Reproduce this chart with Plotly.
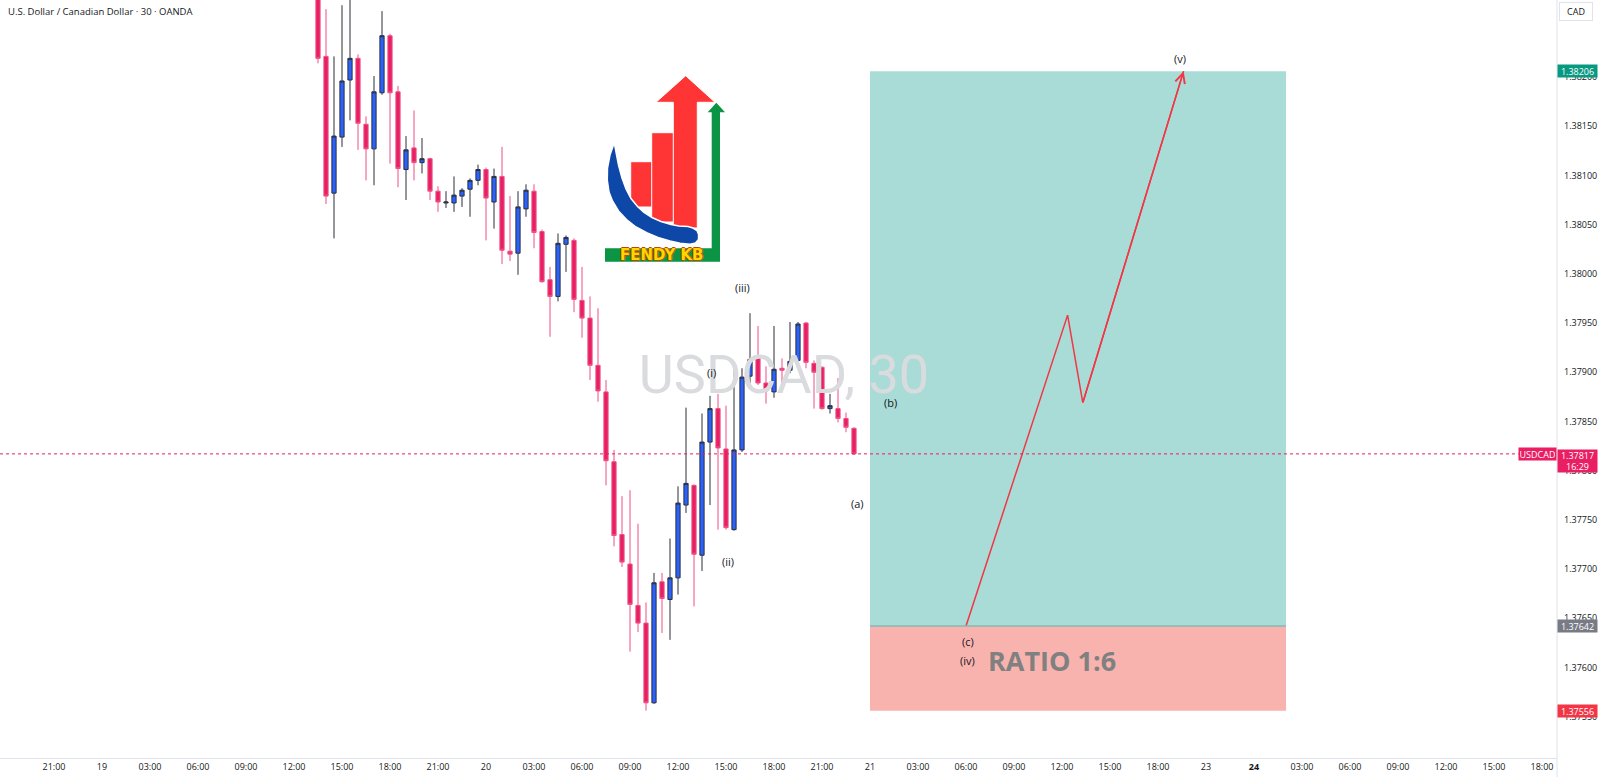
import plotly.graph_objects as go

# USDCAD 30 min candles, x = bar number counted from 18 Nov 18:00
first_bar = 39
opens = [1.38300, 1.38221, 1.38082, 1.38139, 1.38197, 1.38219, 1.38152, 1.38127, 1.38184, 1.38242,
         1.38185, 1.38106, 1.38128, 1.38113, 1.38117, 1.38084, 1.38072, 1.38072, 1.38079, 1.38086,
         1.38095, 1.38106, 1.38073, 1.38099, 1.38023, 1.38021, 1.38066, 1.38084, 1.38043, 1.37994,
         1.37977, 1.38030, 1.38034, 1.37973, 1.37955, 1.37907, 1.37880, 1.37809, 1.37735, 1.37705,
         1.37663, 1.37645, 1.37564, 1.37687, 1.37669, 1.37691, 1.37765, 1.37785, 1.37714, 1.37829,
         1.37863, 1.37822, 1.37740, 1.37821, 1.37896, 1.37916, 1.37889, 1.37880, 1.37904, 1.37902,
         1.37912, 1.37950, 1.37909, 1.37905, 1.37863, 1.37863, 1.37853, 1.37843]
highs = [1.38310, 1.38269, 1.38221, 1.38273, 1.38290, 1.38223, 1.38160, 1.38201, 1.38267, 1.38244,
         1.38191, 1.38140, 1.38166, 1.38138, 1.38118, 1.38089, 1.38084, 1.38099, 1.38087, 1.38097,
         1.38111, 1.38108, 1.38107, 1.38129, 1.38079, 1.38084, 1.38091, 1.38091, 1.38045, 1.38007,
         1.38041, 1.38039, 1.38036, 1.38007, 1.37977, 1.37965, 1.37892, 1.37821, 1.37774, 1.37780,
         1.37746, 1.37666, 1.37696, 1.37696, 1.37731, 1.37784, 1.37864, 1.37786, 1.37858, 1.37876,
         1.37878, 1.37866, 1.37904, 1.37904, 1.37960, 1.37947, 1.37906, 1.37947, 1.37914, 1.37951,
         1.37951, 1.37951, 1.37912, 1.37906, 1.37878, 1.37894, 1.37859, 1.37844]
lows = [1.38214, 1.38071, 1.38036, 1.38129, 1.38156, 1.38126, 1.38095, 1.38090, 1.38182, 1.38112,
        1.38088, 1.38075, 1.38095, 1.38102, 1.38075, 1.38063, 1.38067, 1.38063, 1.38068, 1.38058,
        1.38090, 1.38034, 1.38046, 1.38010, 1.38013, 1.37999, 1.38058, 1.38026, 1.37991, 1.37936,
        1.37972, 1.38002, 1.37961, 1.37935, 1.37892, 1.37870, 1.37785, 1.37723, 1.37702, 1.37616,
        1.37636, 1.37556, 1.37563, 1.37635, 1.37628, 1.37674, 1.37757, 1.37662, 1.37698, 1.37765,
        1.37740, 1.37740, 1.37739, 1.37819, 1.37889, 1.37887, 1.37868, 1.37874, 1.37888, 1.37899,
        1.37904, 1.37904, 1.37863, 1.37862, 1.37858, 1.37849, 1.37839, 1.37816]
closes = [1.38219, 1.38079, 1.38140, 1.38196, 1.38219, 1.38153, 1.38127, 1.38185, 1.38242, 1.38184,
          1.38107, 1.38126, 1.38113, 1.38117, 1.38084, 1.38073, 1.38073, 1.38080, 1.38085, 1.38095,
          1.38106, 1.38077, 1.38099, 1.38024, 1.38020, 1.38068, 1.38085, 1.38042, 1.37992, 1.37977,
          1.38031, 1.38037, 1.37974, 1.37955, 1.37907, 1.37881, 1.37810, 1.37734, 1.37707, 1.37664,
          1.37645, 1.37564, 1.37686, 1.37670, 1.37691, 1.37767, 1.37787, 1.37715, 1.37829, 1.37863,
          1.37823, 1.37742, 1.37821, 1.37895, 1.37913, 1.37889, 1.37881, 1.37903, 1.37902, 1.37911,
          1.37949, 1.37910, 1.37900, 1.37863, 1.37866, 1.37853, 1.37844, 1.37817]
bars = list(range(first_bar, first_bar + len(opens)))

tick_bars = list(range(0, 193, 6))
tick_labels = ["18:00", "21:00", "19", "03:00", "06:00", "09:00", "12:00", "15:00", "18:00",
               "21:00", "20", "03:00", "06:00", "09:00", "12:00", "15:00", "18:00",
               "21:00", "21", "03:00", "06:00", "09:00", "12:00", "15:00", "18:00",
               "23", "<b>24</b>", "03:00", "06:00", "09:00", "12:00", "15:00", "18:00"]
price_ticks = [1.37550, 1.37600, 1.37650, 1.37700, 1.37750, 1.37800, 1.37850,
               1.37900, 1.37950, 1.38000, 1.38050, 1.38100, 1.38150, 1.38200]

last_price = 1.37817
countdown = "16:29"
target_price = 1.38206
entry_price = 1.37642
stop_price = 1.37556
box_start, box_end = 108, 160

# projected zig-zag
path_bars = [120, 132.7, 134.6, 147.2]
path_prices = [entry_price, 1.37958, 1.37869, target_price]

wave_text = ["(i)", "(ii)", "(iii)", "(a)", "(b)", "(c)", "(iv)", "(v)"]
wave_bars = [88.2, 90.2, 92.1, 106.4, 110.5, 120.2, 120.2, 146.8]
wave_prices = [1.37900, 1.37708, 1.37986, 1.37767, 1.37869, 1.37626, 1.37607, 1.38219]

W, H = 1557, 758  # plot area in px


def P(x, y):
    return f"{x / W:.5f},{1 - y / H:.5f}"


def poly(pts):
    return "M" + "L".join(P(*p) for p in pts) + "Z"


fig = go.Figure()

# watermark under the candles
fig.add_trace(go.Scatter(
    x=[97.25], y=[1.37893], mode="text", text=["USDCAD, 30"],
    textfont=dict(size=54, color="#DADBDE", family="Roboto"),
    hoverinfo="skip"))

fig.add_trace(go.Candlestick(
    x=bars, open=opens, high=highs, low=lows, close=closes,
    increasing=dict(fillcolor="#2962FF", line=dict(color="#2B2F3A", width=1)),
    decreasing=dict(fillcolor="#E91E63", line=dict(color="#EE4F86", width=1)),
    whiskerwidth=0, hoverinfo="skip"))

fig.add_trace(go.Scatter(
    x=path_bars, y=path_prices, mode="lines",
    line=dict(color="#F23645", width=1.5), hoverinfo="skip"))

shapes = [
    dict(type="rect", xref="x", yref="y", x0=box_start, x1=box_end, y0=entry_price, y1=target_price,
         fillcolor="#A9DCD6", line=dict(width=0), layer="below"),
    dict(type="rect", xref="x", yref="y", x0=box_start, x1=box_end, y0=stop_price, y1=entry_price,
         fillcolor="#F9B3AE", line=dict(width=0), layer="below"),
    dict(type="line", xref="x", yref="y", x0=box_start, x1=box_end, y0=entry_price, y1=entry_price,
         line=dict(color="#86B9B4", width=1.5)),
    dict(type="line", xref="paper", yref="y", x0=0, x1=0.976, y0=last_price, y1=last_price,
         line=dict(color="#E91E63", width=1, dash="dot")),
    dict(type="line", xref="paper", yref="paper", x0=1, x1=1, y0=-0.03, y1=1,
         line=dict(color="#E0E3EB", width=1)),
]

# logo
white = dict(color="white", width=1)
logo = [
    ([(605, 248.3), (711.7, 248.3), (711.7, 112.3), (707.7, 112.3), (716.3, 102.7), (725, 112.3),
      (720, 112.3), (720, 261.7), (605, 261.7)], "#0B9444", dict(width=0)),
    ([(630.7, 161.7), (656, 161.7), (656, 207), (630.7, 207)], "#FF3535", white),
    ([(651.7, 132.7), (676.7, 132.7), (676.7, 222), (651.7, 222)], "#FF3535", white),
    ([(673.3, 228), (673.3, 102.3), (656, 102.3), (685.7, 75.7), (715, 102.3), (697.3, 102.3),
      (697.3, 228)], "#FF3535", white),
    ([(614.3, 142.5), (610, 155), (607.5, 168), (607.3, 180), (609, 192), (612.5, 201), (618.5, 211),
      (626.5, 219.5), (636, 227), (646.7, 232.7), (658, 237.5), (670, 241), (680, 243.3), (690, 244.3),
      (695.5, 243), (698.5, 239.5), (698.6, 234.5), (697, 230.5), (693, 228), (688, 226.5), (679, 226),
      (671, 224.5), (661, 221.5), (652, 217.5), (644, 212.5), (637.5, 206.5), (631, 198.5),
      (626, 189), (622, 178), (618.5, 165), (616, 152)], "#0D47A8", dict(color="white", width=1.5)),
]
for pts, col, ln in logo:
    shapes.append(dict(type="path", xref="paper", yref="paper", path=poly(pts),
                       fillcolor=col, line=ln))

annotations = [
    dict(xref="paper", yref="paper", x=0.0039, y=1 - 11.7 / H, xanchor="left", yanchor="middle",
         text="U.S. Dollar / Canadian Dollar · 30 · OANDA", showarrow=False,
         font=dict(size=9.5, color="#131722", family="Open Sans")),
    dict(xref="paper", yref="paper", x=662 / W, y=1 - 255 / H, text="<b>FENDY KB</b>", showarrow=False,
         font=dict(size=15, color="#FFD600", family="DejaVu Sans",
                   shadow="1px 0 0 #B84A00, -1px 0 0 #B84A00, 0 1px 0 #B84A00, 0 -1px 0 #B84A00")),
    dict(x=130.7, y=1.37607, text="<b>RATIO 1:6</b>", showarrow=False,
         font=dict(size=27, color="#808080", family="Open Sans")),
    dict(x=path_bars[-1], y=path_prices[-1], ax=path_bars[-2], ay=path_prices[-2],
         axref="x", ayref="y", text="", showarrow=True, arrowhead=5, arrowsize=1.3,
         arrowwidth=1.5, arrowcolor="#F23645"),
    dict(xref="paper", yref="paper", x=1.0013, y=1 - 11 / H, xanchor="left", yanchor="middle",
         text="CAD", showarrow=False, width=30, height=15, bgcolor="white",
         bordercolor="#E0E3EB", borderwidth=1, borderpad=1,
         font=dict(size=9, color="#131722", family="Open Sans")),
]
for t, xb, yp in zip(wave_text, wave_bars, wave_prices):
    annotations.append(dict(x=xb, y=yp, text=t, showarrow=False,
                            font=dict(size=11, color="#131722", family="Open Sans")))


def tag(price, text, color, h=10, anchor="left", width=37):
    return dict(xref="paper", yref="y", x=1, y=price, xanchor=anchor, yanchor="middle",
                text=text, showarrow=False, bgcolor=color, width=width, height=h, borderpad=1,
                font=dict(size=9, color="white", family="Open Sans"))


annotations += [
    tag(target_price, f"{target_price:.5f}", "#089981"),
    tag(entry_price, f"{entry_price:.5f}", "#787B86"),
    tag(stop_price, f"{stop_price:.5f}", "#F23645"),
    dict(tag(last_price, f"{last_price:.5f}<br>{countdown}", "#E91E63", h=20), yanchor="top",
         yshift=5),
    tag(last_price, "USDCAD", "#E91E63", anchor="right", width=35),
]

fig.update_layout(
    width=1600, height=777,
    margin=dict(l=0, r=43, t=0, b=19),
    paper_bgcolor="white", plot_bgcolor="white",
    showlegend=False, boxgap=0.25,
    shapes=shapes, annotations=annotations,
    xaxis=dict(range=[-0.75, 193.875], tickvals=tick_bars, ticktext=tick_labels,
               showgrid=False, zeroline=False, showline=True, linecolor="#E0E3EB",
               ticks="", tickfont=dict(size=9, color="#131722", family="Open Sans"),
               rangeslider=dict(visible=False), fixedrange=True),
    yaxis=dict(range=[1.375079, 1.382783], side="right", tickvals=price_ticks,
               tickformat=".5f", showgrid=False, zeroline=False, showline=False,
               ticks="", ticklabelstandoff=6,
               tickfont=dict(size=9, color="#131722", family="Open Sans"), fixedrange=True),
)

# page margin off so the 1600x777 figure fills the window exactly
fig.write_html("out.html", config={"displayModeBar": False},
               post_script="document.body.style.margin='0';document.body.style.overflow='hidden';")
